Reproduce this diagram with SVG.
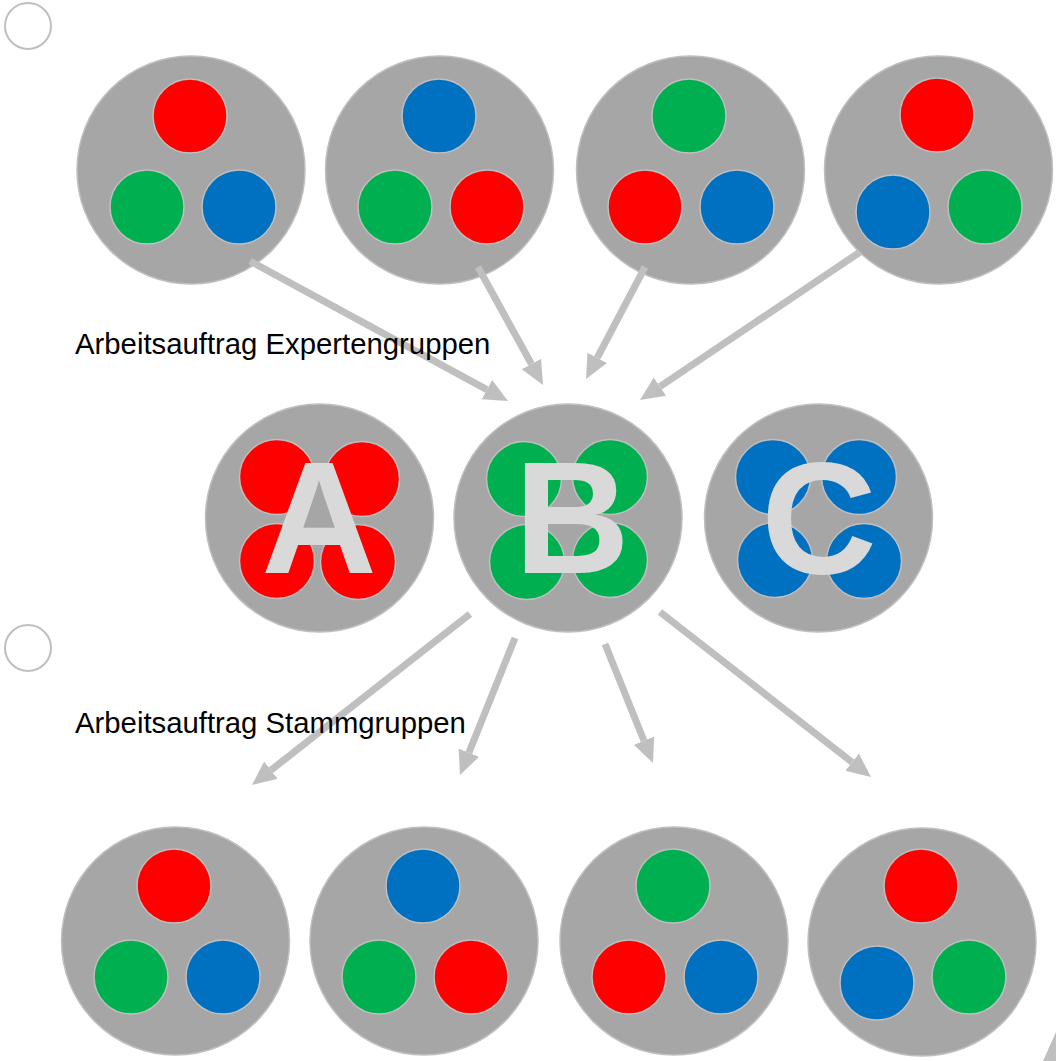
<svg xmlns="http://www.w3.org/2000/svg" width="1056" height="1061" viewBox="0 0 1056 1061">
<style>
.big{fill:#A6A6A6;stroke:#BFBFBF;stroke-width:1.5}
.r{fill:#FF0000;stroke:#BFBFBF;stroke-width:1.5}
.g{fill:#00B050;stroke:#BFBFBF;stroke-width:1.5}
.b{fill:#0070C0;stroke:#BFBFBF;stroke-width:1.5}
.empty{fill:#FFFFFF;stroke:#BFBFBF;stroke-width:2}
.conn line{stroke:#BFBFBF;stroke-width:7;fill:none;marker-end:url(#ah)}
.lbl{font-family:"Liberation Sans",Arial,sans-serif;font-size:29.3px;fill:#000}
.letter{font-family:"Liberation Sans",Arial,sans-serif;font-weight:bold;font-size:160px;fill:#D9D9D9;text-anchor:middle}
</style>
<defs>
<marker id="ah" markerUnits="userSpaceOnUse" viewBox="0 -12 26 24" markerWidth="26" markerHeight="24" refX="0" refY="0" orient="auto">
<path d="M0,-11 L24,0 L0,11 z" fill="#BFBFBF"/>
</marker>
</defs>
<rect width="1056" height="1061" fill="#FFFFFF"/>
<circle id="marker1" class="empty" cx="28" cy="26" r="23"/>
<circle id="marker2" class="empty" cx="28" cy="648" r="23"/>
<g id="top1"><circle class="big" cx="191" cy="170" r="114"/><circle class="r" cx="190" cy="116" r="37"/><circle class="g" cx="147" cy="207" r="37"/><circle class="b" cx="239" cy="207" r="37"/></g>
<g id="top2"><circle class="big" cx="439.5" cy="170" r="114"/><circle class="b" cx="439" cy="116" r="37"/><circle class="g" cx="395" cy="207" r="37"/><circle class="r" cx="487" cy="207" r="37"/></g>
<g id="top3"><circle class="big" cx="690.5" cy="170" r="114"/><circle class="g" cx="689" cy="116" r="37"/><circle class="r" cx="645" cy="207" r="37"/><circle class="b" cx="737" cy="207" r="37"/></g>
<g id="top4"><circle class="big" cx="938.5" cy="170" r="114"/><circle class="r" cx="937" cy="115" r="37"/><circle class="b" cx="893" cy="212" r="37"/><circle class="g" cx="985" cy="207" r="37"/></g>
<g id="expertA"><circle class="big" cx="319.5" cy="518" r="114"/><circle class="r" cx="277" cy="477" r="37.5"/><circle class="r" cx="362" cy="479" r="37.5"/><circle class="r" cx="277" cy="561" r="37.5"/><circle class="r" cx="358" cy="562" r="37.5"/><text class="letter" x="319" y="573">A</text></g>
<g id="expertB"><circle class="big" cx="568" cy="518" r="114"/><circle class="g" cx="524" cy="479" r="37.5"/><circle class="g" cx="610" cy="477" r="37.5"/><circle class="g" cx="527" cy="562" r="37.5"/><circle class="g" cx="610" cy="560" r="37.5"/><text class="letter" x="572" y="573">B</text></g>
<g id="expertC"><circle class="big" cx="818.5" cy="518" r="114"/><circle class="b" cx="773" cy="477" r="37.5"/><circle class="b" cx="859" cy="477" r="37.5"/><circle class="b" cx="775" cy="560" r="37.5"/><circle class="b" cx="864" cy="561" r="37.5"/><text class="letter" x="819" y="573">C</text></g>
<g id="bot1"><circle class="big" cx="175.5" cy="941" r="114"/><circle class="r" cx="174" cy="886" r="37"/><circle class="g" cx="131" cy="977" r="37"/><circle class="b" cx="223" cy="977" r="37"/></g>
<g id="bot2"><circle class="big" cx="424" cy="941" r="114"/><circle class="b" cx="423" cy="886" r="37"/><circle class="g" cx="379" cy="977" r="37"/><circle class="r" cx="471" cy="977" r="37"/></g>
<g id="bot3"><circle class="big" cx="674" cy="941" r="114"/><circle class="g" cx="673" cy="886" r="37"/><circle class="r" cx="629" cy="977" r="37"/><circle class="b" cx="721" cy="977" r="37"/></g>
<g id="bot4"><circle class="big" cx="922" cy="942" r="114"/><circle class="r" cx="921" cy="886" r="37"/><circle class="b" cx="877" cy="983" r="37"/><circle class="g" cx="969" cy="977" r="37"/></g>
<g id="connectors" class="conn">
<line x1="250" y1="261" x2="486.9" y2="389.6"/>
<line x1="478" y1="267" x2="531.4" y2="364"/>
<line x1="645" y1="267" x2="597.2" y2="357.8"/>
<line x1="860" y1="252" x2="659.9" y2="386.6"/>
<line x1="470" y1="614" x2="270.9" y2="770.2"/>
<line x1="515" y1="638" x2="468.9" y2="752.7"/>
<line x1="605" y1="644" x2="644" y2="740.7"/>
<line x1="660" y1="612" x2="852.1" y2="762.2"/>
</g>
<polygon id="cornerArrow" points="1056,1032 1056,1061 1043,1061" fill="#BFBFBF"/>
<text id="label1" class="lbl" x="75" y="354">Arbeitsauftrag Expertengruppen</text>
<text id="label2" class="lbl" x="75" y="733">Arbeitsauftrag Stammgruppen</text>
</svg>
